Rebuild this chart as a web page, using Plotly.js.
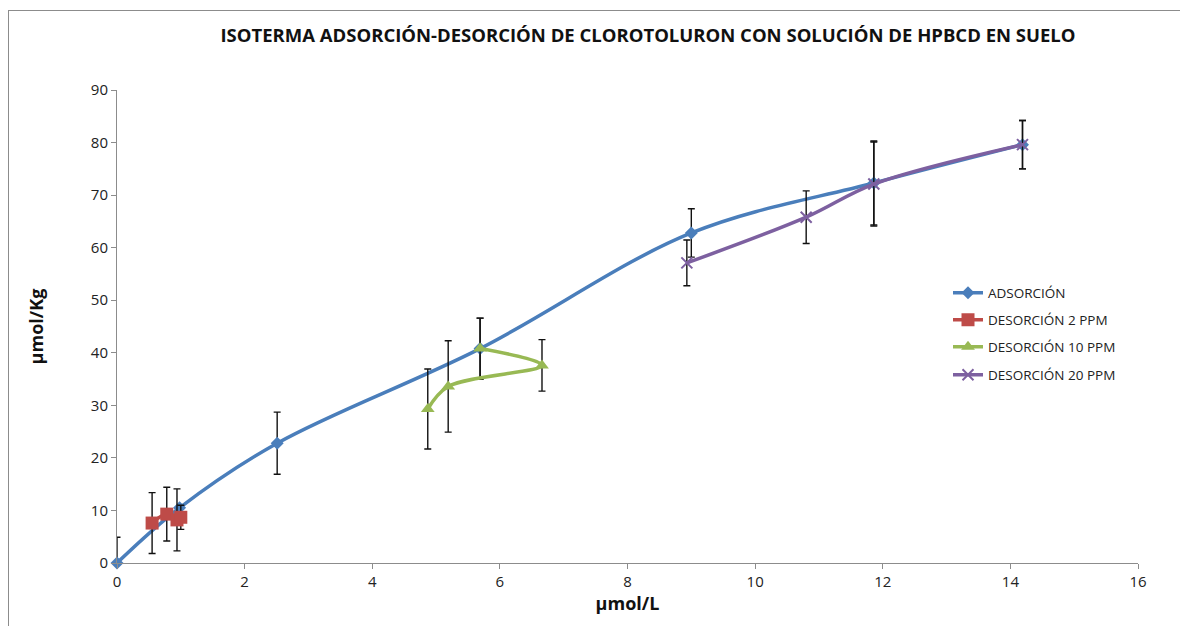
<!DOCTYPE html>
<html>
<head>
<meta charset="utf-8">
<script src="https://cdn.plot.ly/plotly-3.0.1.min.js"></script>
<style>
  html, body { margin: 0; padding: 0; background: #fff; overflow: hidden; }
  #chart { width: 1180px; height: 626px; }
  #frame { position: absolute; left: 8px; top: 10px; width: 1300px; height: 800px; border: 1px solid #8c8c8c; pointer-events: none; }
</style>
</head>
<body>
<div id="chart"></div>
<div id="frame"></div>
<script>
// ----- data -----
const adsX = [0, 0.98, 2.51, 5.69, 9.0, 11.86, 14.19];
const adsY = [0, 10.5, 22.8, 40.8, 62.8, 72.3, 79.6];
const adsErrPlus  = [4.9, null, 5.9, 5.8, 4.6, 8.0, 4.6];
const adsErrMinus = [0,   null, 5.9, 5.8, 4.6, 8.0, 4.6];

const d2X = [0.55, 0.78, 0.94, 1.0];
const d2Y = [7.6, 9.3, 8.2, 8.7];
const d2Err = [5.8, 5.1, 5.9, 2.3];

const d10X = [4.87, 5.19, 6.66, 5.69];
const d10Y = [29.3, 33.6, 37.6, 40.8];
const d10Err = [7.6, 8.7, 4.9, 5.8];

const d20X = [8.93, 10.8, 11.86, 14.19];
const d20Y = [57.1, 65.8, 72.1, 79.6];
const d20Err = [4.35, 5.0, 8.0, 4.6];

const seriesNames = ['ADSORCIÓN', 'DESORCIÓN 2 PPM', 'DESORCIÓN 10 PPM', 'DESORCIÓN 20 PPM'];
const titleText = 'ISOTERMA ADSORCIÓN-DESORCIÓN DE CLOROTOLURON CON SOLUCIÓN DE HPBCD EN SUELO';
const xTitle = 'µmol/L';
const yTitle = 'µmol/Kg';

// ----- styles -----
const FONT = 'Open Sans, Noto Sans, sans-serif';
const errStyle = {color: '#111', thickness: 1.4, width: 3.5};

const traces = [
  {
    x: adsX, y: adsY, name: seriesNames[0], mode: 'lines+markers', legend: 'legend',
    line: {color: '#4A7EBB', width: 3.5, shape: 'spline', smoothing: 1},
    marker: {symbol: 'diamond', size: 10, color: '#4A7EBB'},
    error_y: Object.assign({type: 'data', symmetric: false, array: adsErrPlus, arrayminus: adsErrMinus}, errStyle),
    cliponaxis: false
  },
  {
    x: d2X, y: d2Y, name: seriesNames[1], mode: 'lines+markers', legend: 'legend2',
    line: {color: '#BE4B48', width: 3.5, shape: 'spline', smoothing: 1},
    marker: {symbol: 'square', size: 13, color: '#BE4B48'},
    error_y: Object.assign({type: 'data', array: d2Err}, errStyle)
  },
  {
    x: d10X, y: d10Y, name: seriesNames[2], mode: 'lines+markers', legend: 'legend3',
    line: {color: '#98B954', width: 3.5, shape: 'spline', smoothing: 1},
    marker: {symbol: 'triangle-up', size: 12, color: '#98B954'},
    error_y: Object.assign({type: 'data', array: d10Err}, errStyle)
  },
  {
    x: d20X, y: d20Y, name: seriesNames[3], mode: 'lines+markers', legend: 'legend4',
    line: {color: '#7D60A0', width: 3.5, shape: 'spline', smoothing: 1},
    marker: {symbol: 'x-thin-open', size: 11, color: '#7D60A0', line: {color: '#7D60A0', width: 2}},
    error_y: Object.assign({type: 'data', array: d20Err}, errStyle)
  }
];

function leg(yPix) {
  return {
    x: (948 - 117) / 1021, xanchor: 'left',
    y: (563 - yPix) / 473, yanchor: 'middle',
    bgcolor: 'rgba(0,0,0,0)', borderwidth: 0,
    font: {family: FONT, size: 13.5, color: '#222'},
    itemwidth: 30
  };
}

const layout = {
  width: 1180, height: 626,
  margin: {l: 117, r: 42, t: 90, b: 63, pad: 0},
  paper_bgcolor: '#fff', plot_bgcolor: '#fff',
  font: {family: FONT, color: '#222'},
  title: {
    text: titleText, x: 648 / 1180, xanchor: 'center', y: 1 - 36 / 626, yanchor: 'middle',
    font: {family: FONT, size: 18.5, color: '#111', weight: 'bold'}
  },
  xaxis: {
    range: [0, 16], dtick: 2, tick0: 0,
    showgrid: false, zeroline: false,
    showline: true, linecolor: '#8c8c8c', linewidth: 1,
    ticks: 'outside', ticklen: 5, tickcolor: '#8c8c8c',
    tickfont: {family: FONT, size: 15, color: '#222'},
    title: {text: xTitle, standoff: 6, font: {family: FONT, size: 18, color: '#111', weight: 'bold'}}
  },
  yaxis: {
    range: [0, 90], dtick: 10, tick0: 0,
    showgrid: false, zeroline: false,
    showline: true, linecolor: '#8c8c8c', linewidth: 1,
    ticks: 'outside', ticklen: 5, tickcolor: '#8c8c8c',
    tickfont: {family: FONT, size: 15, color: '#222'},
    title: {text: yTitle, standoff: 42, font: {family: FONT, size: 18, color: '#111', weight: 'bold'}}
  },
  showlegend: true,
  legend: leg(293),
  legend2: leg(320),
  legend3: leg(347),
  legend4: leg(375)
};

Plotly.newPlot('chart', traces, layout, {displayModeBar: false, staticPlot: true});
</script>
</body>
</html>
